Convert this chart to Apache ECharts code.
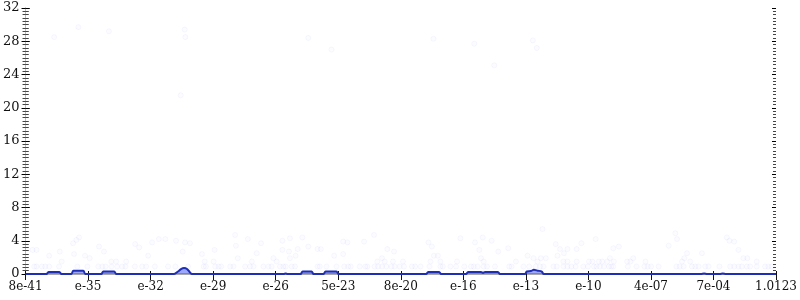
<!DOCTYPE html>
<html>
<head>
<meta charset="utf-8">
<script src="https://cdn.jsdelivr.net/npm/echarts@6/dist/echarts.min.js"></script>
<style>html,body{margin:0;padding:0;background:#fff}#c{width:800px;height:300px}</style>
</head>
<body>
<div id="c"></div>
<script>
// x tick labels (12 equal intervals)
var xTickLabels = ['8e-41','e-35','e-32','e-29','e-26','5e-23','8e-20','e-16','e-13','e-10','4e-07','7e-04','1.0123'];

// density line (x position in tick units, value)
var lineX = [0,0.335,0.367,0.542,0.574,0.733,0.765,0.924,0.956,1.211,1.243,1.418,1.450,2.375,2.438,2.486,2.534,2.582,2.629,2.661,4.127,4.159,4.191,4.398,4.430,4.574,4.606,4.765,4.797,4.972,5.004,6.406,6.438,6.614,6.645,7.044,7.076,7.283,7.315,7.347,7.554,7.586,7.984,8.016,8.080,8.127,8.191,8.255,8.287,10.80,10.85,10.90,11.10,11.15,11.20,12];
var lineY = [0,0,0.25,0.25,0,0,0.4,0.4,0,0,0.3,0.3,0,0,0.3,0.6,0.72,0.6,0.2,0,0,0.05,0,0,0.3,0.3,0,0,0.3,0.3,0,0,0.25,0.25,0,0,0.25,0.25,0.15,0.25,0.25,0,0,0.3,0.35,0.5,0.4,0.3,0,0,0.05,0,0,0.05,0,0];

// faint scatter points: row near 0.9
var rowX = [0.139,0.175,0.260,0.314,0.378,0.537,0.829,0.988,1.163,1.227,1.280,1.375,1.466,1.546,1.599,1.748,1.865,1.928,2.067,2.279,2.395,2.598,2.848,2.884,3.033,
3.087,3.128,3.272,3.326,3.511,3.590,3.645,3.804,3.884,3.936,4.069,4.123,4.159,4.255,4.308,4.669,4.706,4.813,4.972,5.095,5.159,5.200,5.344,5.434,5.466,5.583,5.637,5.700,5.769,5.849,5.901,5.981,6.051,
6.178,6.231,6.316,6.459,6.634,6.673,6.794,6.884,7.017,7.124,7.167,7.230,7.326,7.378,7.506,7.734,7.772,7.963,8.053,8.159,8.228,8.282,8.441,8.494,8.601,8.665,8.728,8.797,8.920,8.993,9.089,
9.131,9.184,9.248,9.327,9.366,9.398,9.631,9.769,9.896,9.949,10.003,10.124,10.406,10.459,10.522,10.656,10.709,10.762,10.869,10.921,11.097,11.267,11.331,11.399,11.453,11.533,11.586,11.692,11.825,11.877,11.931];
var rowY = 0.9;

// other scatter points [x, value]
var scatterPts = [
[0.112,2.9],[0.175,2.9],[0.378,2.2],[0.547,2.7],[0.578,1.5],[0.760,3.7],[0.813,4.1],[0.856,4.4],[0.776,2.4],[0.951,2.2],[1.025,1.9],[1.175,3.3],[1.254,2.7],[1.371,1.5],[1.450,1.5],[1.610,1.5],[1.753,3.6],[1.817,3.2],[1.960,2.2],[2.024,3.8],[2.131,4.2],[2.236,4.2],[2.406,4.0],[2.513,2.7],[2.550,3.8],[2.629,3.7],[2.821,2.4],[2.864,1.5],[3.023,2.9],[3.007,1.5],
[3.351,4.7],[3.363,3.4],[3.394,1.9],[3.554,4.2],[3.618,1.5],[3.697,2.5],[3.766,3.7],[3.963,1.9],[4.016,1.5],[4.107,4.0],[4.107,2.9],[4.212,2.7],[4.228,1.9],[4.228,4.3],[4.319,2.2],[4.351,3.0],[4.426,4.4],[4.521,3.3],[4.669,3.0],[4.722,3.0],[4.935,2.2],[5.079,3.9],[5.147,3.8],[5.079,2.4],[5.414,3.9],[5.573,4.7],[5.625,1.5],[5.700,1.9],[5.742,1.5],[5.785,3.0],[5.892,2.7],[5.876,1.5],[6.035,1.5],
[6.443,3.8],[6.497,3.3],[6.529,2.2],[6.593,2.2],[6.475,1.5],[6.634,1.5],[6.953,4.3],[6.900,1.5],[7.187,3.8],[7.256,2.9],[7.310,4.4],[7.283,1.9],[7.326,1.5],[7.453,4.0],[7.559,2.7],[7.718,3.1],[7.841,1.5],[8.027,2.2],[8.123,1.9],[8.187,1.5],[8.239,1.9],[8.319,1.9],[8.266,5.4],[8.478,3.6],[8.547,3.0],[8.610,2.5],[8.665,3.0],[8.505,2.2],[8.601,1.5],[8.665,1.5],[8.813,1.5],[8.813,3.0],[8.888,3.7],[9.116,4.2],[9.009,1.5],
[9.063,1.5],[9.168,1.5],[9.222,1.5],[9.302,1.5],[9.343,1.9],[9.407,1.5],[9.398,3.1],[9.487,3.3],[9.621,1.5],[9.673,1.5],[9.717,1.9],[9.912,1.5],[10.284,3.4],[10.390,4.9],[10.417,4.2],[10.534,1.9],[10.577,2.5],[10.497,1.5],[10.629,1.5],[10.816,2.5],[11.214,4.4],[11.256,4.0],[11.331,3.9],[11.399,2.9],[11.479,1.9],[11.542,1.9],[11.692,1.5],
[0.457,28.5],[0.845,29.7],[1.334,29.2],[2.545,29.4],[2.555,28.5],[2.481,21.5],[4.521,28.4],[4.892,27.0],[6.523,28.3],[7.176,27.7],[8.112,28.1],[8.175,27.2],[7.495,25.1]
];

var font = 'DejaVu Serif';
var allScatter = rowX.map(function(x){return [x,rowY];}).concat(scatterPts);
var lineData = lineX.map(function(x,i){return [x,lineY[i]];});

var chart = echarts.init(document.getElementById('c'), null, {renderer:'canvas'});
var yBase = {type:'value',min:0,max:32,interval:4,splitLine:{show:false}};
chart.setOption({
  animation:false,
  grid:{left:23,right:24,top:8,bottom:26,containLabel:false},
  xAxis:[
    {type:'value',min:0,max:12,interval:1,position:'bottom',
     axisLine:{show:true,lineStyle:{color:'#111',width:1}},
     axisTick:{show:true,inside:false,length:6,lineStyle:{color:'#111'}},
     axisLabel:{show:true,margin:7,color:'#111',fontFamily:font,fontSize:12,
       formatter:function(v){return xTickLabels[Math.round(v)];}},
     splitLine:{show:false}},
    {type:'value',min:0,max:12,interval:1,position:'bottom',
     axisLine:{show:false},axisTick:{show:true,inside:true,length:3,lineStyle:{color:'#111'}},
     axisLabel:{show:false},splitLine:{show:false}},
    {type:'value',min:0,max:12,interval:1,position:'top',
     axisLine:{show:true,lineStyle:{color:'#aaa',width:2}},axisTick:{show:false},
     axisLabel:{show:false},splitLine:{show:false}}
  ],
  yAxis:[
    Object.assign({},yBase,{position:'left',
     axisLine:{show:true,lineStyle:{color:'#aaa',width:1}},
     axisTick:{show:true,inside:false,length:4,lineStyle:{color:'#000'}},
     minorTick:{show:true,splitNumber:10,length:3,lineStyle:{color:'#444'}},
     axisLabel:{show:true,margin:6,color:'#111',fontFamily:font,fontSize:13}}),
    Object.assign({},yBase,{position:'left',axisLine:{show:false},
     axisTick:{show:true,inside:true,length:4,lineStyle:{color:'#000'}},
     minorTick:{show:true,splitNumber:10,length:3,lineStyle:{color:'#444'}},
     axisLabel:{show:false}}),
    Object.assign({},yBase,{position:'right',
     axisLine:{show:true,lineStyle:{color:'#bbb',width:1}},
     axisTick:{show:true,inside:false,length:4,lineStyle:{color:'#000'}},
     minorTick:{show:true,splitNumber:10,length:3,lineStyle:{color:'#444'}},
     axisLabel:{show:false}}),
    Object.assign({},yBase,{position:'right',axisLine:{show:false},
     axisTick:{show:true,inside:true,length:4,lineStyle:{color:'#000'}},
     minorTick:{show:true,splitNumber:10,length:3,lineStyle:{color:'#444'}},
     axisLabel:{show:false}})
  ],
  series:[
    {type:'scatter',xAxisIndex:0,yAxisIndex:0,data:allScatter,symbol:'circle',symbolSize:5,
     itemStyle:{color:'rgba(130,130,255,0.035)',borderColor:'rgba(110,110,255,0.07)',borderWidth:1},
     silent:true,z:1},
    {type:'line',xAxisIndex:0,yAxisIndex:0,data:lineData,showSymbol:false,smooth:0.3,
     lineStyle:{color:'#1f2fb5',width:2},
     areaStyle:{color:'rgba(70,90,255,0.75)'},z:3}
  ]
});
</script>
</body>
</html>
